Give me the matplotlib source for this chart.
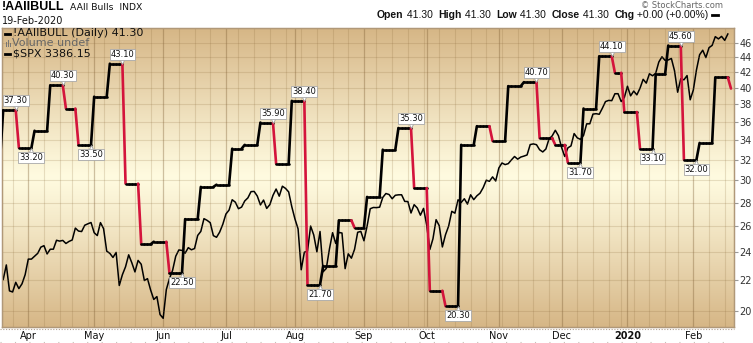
import numpy as np
import pandas as pd
import matplotlib
matplotlib.use('Agg')
import matplotlib.pyplot as plt
from matplotlib.collections import LineCollection
from matplotlib.ticker import FixedLocator, NullLocator, FixedFormatter
from matplotlib.patches import Rectangle
from matplotlib.lines import Line2D
import matplotlib.transforms as mtransforms

# ---------------- data ----------------
holidays = ['2019-04-19', '2019-05-27', '2019-07-04', '2019-09-02', '2019-11-28',
            '2019-12-25', '2020-01-01', '2020-01-20', '2020-02-17']
first_day = '2019-03-19'
last_day = '2020-02-20'

# weekly AAII bullish readings (date on which the reading takes effect)
aaii_dates = ['2019-03-13', '2019-03-20', '2019-03-27', '2019-04-03', '2019-04-10', '2019-04-17',
              '2019-04-24', '2019-05-01', '2019-05-08', '2019-05-15', '2019-05-22', '2019-05-29',
              '2019-06-05', '2019-06-12', '2019-06-19', '2019-06-26', '2019-07-03', '2019-07-10',
              '2019-07-17', '2019-07-24', '2019-07-31', '2019-08-07', '2019-08-14', '2019-08-21',
              '2019-08-28', '2019-09-04', '2019-09-11', '2019-09-18', '2019-09-25', '2019-10-02',
              '2019-10-09', '2019-10-16', '2019-10-23', '2019-10-30', '2019-11-06', '2019-11-13',
              '2019-11-20', '2019-11-27', '2019-12-04', '2019-12-11', '2019-12-18', '2019-12-26',
              '2019-12-31', '2020-01-08', '2020-01-15', '2020-01-22', '2020-01-29', '2020-02-05',
              '2020-02-12', '2020-02-20']
aaii_values = [32.0, 37.3, 33.2, 35.0, 40.3, 37.5,
               33.5, 38.9, 43.1, 29.7, 24.6, 24.8,
               22.5, 26.6, 29.4, 29.6, 33.1, 33.5,
               35.9, 31.6, 38.4, 21.7, 23.0, 26.5,
               25.9, 28.5, 33.0, 35.3, 29.3, 21.3,
               20.3, 33.5, 35.5, 33.9, 40.2, 40.7,
               34.2, 33.5, 31.7, 37.5, 44.1, 41.9,
               37.1, 33.1, 41.7, 45.6, 32.0, 33.7,
               41.3, 39.9]

# S&P 500 daily closes, 2019-03-20 .. 2020-02-19
spx_first = '2019-03-20'
spx_values = [
    2824.2, 2854.9, 2800.7, 2798.4, 2818.5, 2805.4, 2815.4, 2834.4,
    2867.2, 2867.2, 2873.4, 2879.4, 2892.7, 2895.8, 2878.2, 2888.2, 2888.3, 2907.4,
    2905.6, 2907.1, 2900.5, 2905.0, 2908.0, 2933.7, 2927.3, 2926.2, 2939.9, 2943.0, 2945.8,
    2923.7, 2917.5, 2945.6, 2932.5, 2884.1, 2879.4, 2870.7, 2881.4, 2811.9, 2834.4,
    2851.0, 2876.3, 2859.5, 2840.2, 2864.4, 2856.3, 2822.2, 2826.1, 2802.4, 2783.0,
    2788.9, 2752.1,
    2744.5, 2803.3, 2826.2, 2843.5, 2873.3, 2886.7, 2885.7, 2879.8, 2891.6, 2887.0,
    2889.7, 2917.8, 2926.5, 2954.2, 2950.5, 2945.4, 2917.4, 2913.8, 2924.9, 2941.8,
    2964.3, 2973.0, 2995.8, 2990.4, 2976.0, 2979.6, 2993.1, 2999.9, 3013.8, 3014.3,
    3004.0, 2984.4, 2995.1, 2976.6, 2985.0, 3005.5, 3019.6, 3003.7, 3025.9, 3021.0,
    3013.2, 2980.4,
    2953.6, 2932.1, 2844.7, 2881.8, 2884.0, 2938.1, 2918.7, 2882.7, 2926.3, 2840.6,
    2847.6, 2888.7, 2923.7, 2900.5, 2924.4, 2923.0, 2847.1, 2878.4, 2869.2, 2887.9,
    2924.6, 2926.5,
    2906.3, 2937.8, 2976.0, 2978.7, 2978.4, 2979.4, 3000.9, 3009.6, 3007.4, 2998.0,
    3005.7, 3006.7, 3006.8, 2992.1, 2991.8, 2966.6, 2984.9, 2977.6, 2961.8, 2976.7,
    2940.3, 2887.6, 2910.6, 2952.0, 2938.8, 2893.1, 2919.4, 2938.1, 2970.3, 2966.2,
    2995.7, 2989.7, 2998.0, 2986.2, 3006.7, 2996.0, 3004.5, 3010.3, 3022.6, 3039.4,
    3036.9, 3046.8, 3037.6,
    3066.9, 3078.3, 3074.6, 3076.8, 3085.2, 3093.1, 3087.0, 3091.8, 3094.0, 3096.6,
    3120.5, 3122.0, 3120.2, 3108.5, 3103.5, 3110.3, 3133.6, 3140.5, 3153.6, 3141.0,
    3113.9, 3093.2, 3112.8, 3117.4, 3145.9, 3136.0, 3132.5, 3141.6, 3168.6, 3168.8,
    3191.5, 3192.5, 3191.1, 3205.4, 3221.2, 3224.0, 3223.4, 3239.9, 3240.0, 3221.3,
    3230.8,
    3257.9, 3234.9, 3246.3, 3237.2, 3253.1, 3274.7, 3265.4, 3288.1, 3283.2, 3289.3,
    3316.8, 3329.6, 3320.8, 3321.8, 3325.5, 3295.5, 3243.6, 3276.2, 3273.4, 3283.7,
    3225.5,
    3248.9, 3297.6, 3334.7, 3345.8, 3327.7, 3352.1, 3357.8, 3379.5, 3373.9, 3380.2,
    3370.3, 3386.15]

month_labels = ['Apr', 'May', 'Jun', 'Jul', 'Aug', 'Sep', 'Oct', 'Nov', 'Dec', '2020', 'Feb']
aaii_ticks = [20, 22, 24, 26, 28, 30, 32, 34, 36, 38, 40, 42, 44, 46]

label_weeks = ['2019-03-20', '2019-03-27', '2019-04-10', '2019-04-24', '2019-05-08', '2019-06-05',
               '2019-07-17', '2019-07-31', '2019-08-07', '2019-09-18', '2019-10-09', '2019-11-13',
               '2019-12-04', '2019-12-18', '2020-01-08', '2020-01-22', '2020-01-29']
label_sides = ['above', 'below', 'above', 'below', 'above', 'below',
               'above', 'above', 'below', 'above', 'below', 'above',
               'below', 'above', 'below', 'above', 'below']

# ---------------- build series ----------------
days = pd.bdate_range(first_day, last_day)
days = days[~days.isin(pd.to_datetime(holidays))]
nd = len(days)
xi = np.arange(nd)

aaii_s = pd.Series(aaii_values, index=pd.to_datetime(aaii_dates))
aaii_daily = aaii_s.reindex(days, method='ffill').values

spx_start_i = int(np.where(days == pd.Timestamp(spx_first))[0][0])
spx_x = np.arange(spx_start_i, spx_start_i + len(spx_values))

# ---------------- figure ----------------
W, H = 753, 343
fig = plt.figure(figsize=(W / 100, H / 100), dpi=100)
fig.patch.set_facecolor('white')

L, R, T, B = 2, 734, 28, 327
rect = [L / W, 1 - B / H, (R - L) / W, (B - T) / H]

# background gradient
bg = fig.add_axes(rect, zorder=0)
n = 300
t = np.abs(np.linspace(-1, 1, n))
edge = np.array([214, 182, 134]) / 255.0
center = np.array([255, 251, 224]) / 255.0
prof = t ** 1.1
grad = center[None, :] + (edge - center)[None, :] * prof[:, None]
bg.imshow(grad[:, None, :], aspect='auto', extent=[0, 1, 0, 1], interpolation='bilinear')
bg.set_xlim(0, 1)
bg.set_ylim(0, 1)
bg.axis('off')

ax = fig.add_axes(rect, zorder=1)
ax.set_facecolor('none')
xlo = 0.62
xhi = xlo + (R - L) / 3.137
ax.set_xlim(xlo, xhi)
ax.set_yscale('log')
ax.set_ylim(2726.9, 3401.2)
ax.yaxis.set_major_locator(NullLocator())
ax.yaxis.set_minor_locator(NullLocator())

# vertical grid: weekly (first trading day of week) and monthly
wk = [i for i in range(1, nd) if days[i].weekday() < days[i - 1].weekday()]
mo = [i for i in range(1, nd) if days[i].month != days[i - 1].month]
for i in wk:
    if i not in mo:
        ax.axvline(i, color='#8a6a3a', alpha=0.2, lw=0.8, zorder=1)
for i in mo:
    ax.axvline(i, color='#7a5a30', alpha=0.36, lw=0.9, zorder=1)

ax.plot(spx_x, spx_values, color='black', lw=1.1, zorder=3)

ax.set_xticks(mo)
ax.set_xticklabels(month_labels)
for lab in ax.get_xticklabels():
    lab.set_fontsize(7)
    lab.set_color('#111111')
    if lab.get_text() == '2020':
        lab.set_fontweight('bold')
ax.tick_params(axis='x', length=0, pad=3)
for s in ax.spines.values():
    s.set_color('#b09878')
    s.set_linewidth(0.9)

ax2 = ax.twinx()
ax2.set_yscale('log')
ax2.set_ylim(19.03, 48.15)
ax2.yaxis.set_major_locator(FixedLocator(aaii_ticks))
ax2.yaxis.set_major_formatter(FixedFormatter([str(v) for v in aaii_ticks]))
ax2.yaxis.set_minor_locator(NullLocator())
ax2.tick_params(axis='y', direction='out', length=3, width=0.8, color='#999999',
                labelsize=7, labelcolor='#333333', pad=1)
for s in ax2.spines.values():
    s.set_color('#b09878')
    s.set_linewidth(0.9)
for v in aaii_ticks:
    ax2.axhline(v, color='#8a6a3a', alpha=0.2, lw=0.8, zorder=1)

# AAII step line, red on declines
pts = np.column_stack([xi, aaii_daily])
segs = np.stack([pts[:-1], pts[1:]], axis=1)
cols = ['#d4143c' if aaii_daily[k + 1] < aaii_daily[k] else 'black' for k in range(nd - 1)]
lc = LineCollection(segs, colors=cols, linewidths=1.9, zorder=4, capstyle='round', joinstyle='round')
ax2.add_collection(lc)

# value labels at the last day of the marked weeks
change_idx = [int(np.searchsorted(days, pd.Timestamp(d))) for d in aaii_dates]
for d, side in zip(label_weeks, label_sides):
    k = aaii_dates.index(d)
    j = change_idx[k + 1] - 1
    v = aaii_daily[j]
    sgn = 1 if side == 'above' else -1
    tri = mtransforms.offset_copy(ax2.transData, fig=fig, x=0, y=sgn * 3.0, units='dots')
    ax2.plot([j], [v], marker='v' if side == 'above' else '^', ms=4.5, mfc='white',
             mec='#a0a0a0', mew=0.6, transform=tri, zorder=5, clip_on=False)
    ax2.annotate(f'{v:.2f}', (j, v), xytext=(0, sgn * 3.6), textcoords='offset points',
                 ha='center', va='bottom' if side == 'above' else 'top', fontsize=6,
                 color='#111111', zorder=6,
                 bbox=dict(boxstyle='square,pad=0.12', fc='white', ec='#a8a8a8', lw=0.6))

# ---------------- texts ----------------
def px(x, y):
    return x / W, 1 - y / H

fig.text(*px(2, 7), '!AAIIBULL', fontsize=9, fontweight='bold', family='Liberation Sans',
         va='center', ha='left')
fig.text(*px(70, 7.5), 'AAII Bulls  INDX', fontsize=6.7, va='center', ha='left', color='#111111')
fig.text(*px(2, 20.5), '19-Feb-2020', fontsize=7, va='center', ha='left', color='#111111')
fig.text(*px(723, 5), '© StockCharts.com', fontsize=6, va='center', ha='right', color='#666666')

# legend inside plot
fig.add_artist(Line2D([5 / W, 10 / W], [1 - 33.5 / H] * 2, color='black', lw=2))
fig.text(*px(13, 33.5), '!AAIIBULL (Daily) 41.30', fontsize=8, va='center', color='#111111')
for bx, bh in [(5.5, 5), (7.5, 7), (9.5, 4)]:
    fig.add_artist(Rectangle(((bx) / W, 1 - 47 / H), 1.4 / W, bh / H, color='#777777', lw=0))
fig.text(*px(12, 43.5), 'Volume undef', fontsize=8, va='center', color='#666666')
fig.add_artist(Line2D([5 / W, 10 / W], [1 - 53.5 / H] * 2, color='black', lw=2))
fig.text(*px(13, 53.5), r'\$SPX 3386.15', fontsize=8, va='center', color='#111111')

# right header with bold keywords
pieces = [('Open', True), (' 41.30  ', False), ('High', True), (' 41.30  ', False),
          ('Low', True), (' 41.30  ', False), ('Close', True), (' 41.30  ', False),
          ('Chg', True), (' +0.00 (+0.00%)', False)]
fig.canvas.draw()
rend = fig.canvas.get_renderer()
xcur = 377
for txt, bold in pieces:
    tt = fig.text(*px(xcur, 14.5), txt, fontsize=7.5, family='Liberation Sans',
                  fontweight='bold' if bold else 'normal', va='center', ha='left', color='#111111')
    bb = tt.get_window_extent(renderer=rend)
    xcur += bb.width
fig.add_artist(Line2D([(xcur + 3) / W, (xcur + 9) / W], [1 - 15 / H] * 2, color='black', lw=2))

# dotted line below the plot
fig.add_artist(Line2D([0, R / W], [1 - 328.8 / H] * 2, color='#b0a090', lw=0.8,
                      linestyle=(0, (1, 1.5))))
fig.add_artist(Line2D([0, R / W], [1 - 341.8 / H] * 2, color='#c8c0b8', lw=0.8,
                      linestyle=(0, (1, 12))))

fig.savefig('out.png', dpi=100, facecolor='white')
